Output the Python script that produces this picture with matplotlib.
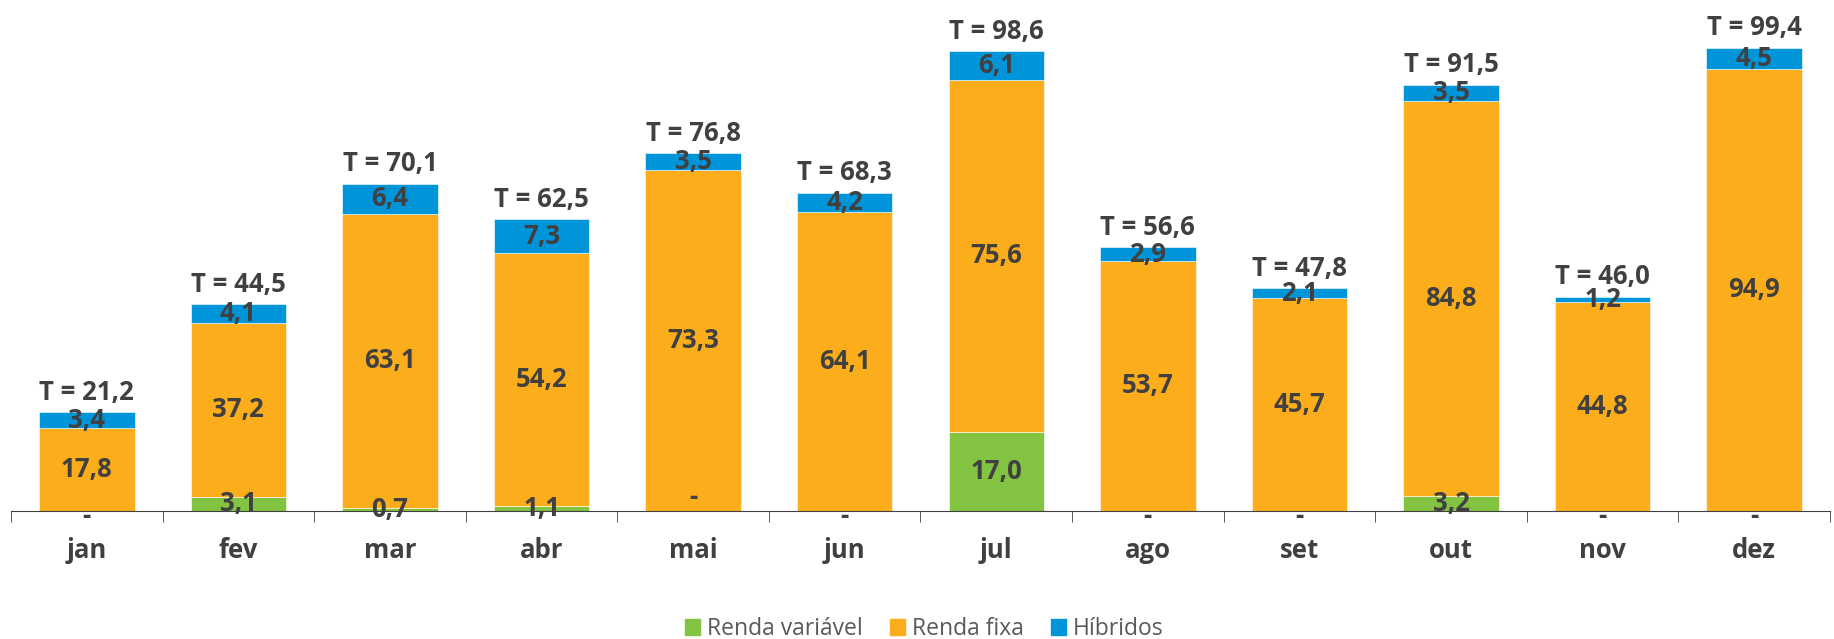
import numpy as np
import matplotlib.pyplot as plt
from matplotlib.patches import Patch

months = ['jan', 'fev', 'mar', 'abr', 'mai', 'jun', 'jul', 'ago', 'set', 'out', 'nov', 'dez']
renda_variavel = [0, 3.1, 0.7, 1.1, 0, 0, 17.0, 0, 0, 3.2, 0, 0]
renda_fixa = [17.8, 37.2, 63.1, 54.2, 73.3, 64.1, 75.6, 53.7, 45.7, 84.8, 44.8, 94.9]
hibridos = [3.4, 4.1, 6.4, 7.3, 3.5, 4.2, 6.1, 2.9, 2.1, 3.5, 1.2, 4.5]
totais = [21.2, 44.5, 70.1, 62.5, 76.8, 68.3, 98.6, 56.6, 47.8, 91.5, 46.0, 99.4]

green = '#82C341'
orange = '#FBAD1B'
blue = '#0095D9'
txt = '#404040'

plt.rcParams['font.family'] = ['Open Sans', 'DejaVu Sans']

def fmt(v):
    return '-' if v == 0 else f'{v:.1f}'.replace('.', ',')

fig = plt.figure(figsize=(18.34, 6.39), dpi=100)
ax = fig.add_axes([11 / 1834, 1 - 511 / 639, 1819 / 1834, 511 / 639])

x = np.arange(len(months))
w = 0.63
rv = np.array(renda_variavel)
rf = np.array(renda_fixa)
hb = np.array(hibridos)

ax.bar(x, rv, w, color=green, edgecolor='white', linewidth=0.4)
ax.bar(x, rf, w, bottom=rv, color=orange, edgecolor='white', linewidth=0.4)
ax.bar(x, hb, w, bottom=rv + rf, color=blue, edgecolor='white', linewidth=0.4)

fs = 18.5
for i in range(len(months)):
    # renda variável
    y = rv[i] / 2
    if rv[i] == 0:
        y = 3.0 if months[i] == 'mai' else -1.2
    ax.text(x[i], y, fmt(rv[i]), ha='center', va='center', fontsize=fs,
            fontweight='bold', color=txt)
    ax.text(x[i], rv[i] + rf[i] / 2, fmt(rf[i]), ha='center', va='center',
            fontsize=fs, fontweight='bold', color=txt)
    ax.text(x[i], rv[i] + rf[i] + hb[i] / 2, fmt(hb[i]), ha='center', va='center',
            fontsize=fs, fontweight='bold', color=txt)
    ax.annotate('T = ' + fmt(totais[i]), (x[i], rv[i] + rf[i] + hb[i]),
                xytext=(0, 14.5), textcoords='offset points', ha='center',
                va='center', fontsize=fs, fontweight='bold', color=txt)

ax.set_xlim(-0.5, 11.5)
ax.set_ylim(0, 109.7)
for s in ['top', 'right', 'left']:
    ax.spines[s].set_visible(False)
ax.spines['bottom'].set_color('#404040')
ax.set_yticks([])
ax.set_xticks(x)
ax.set_xticklabels(months, fontsize=fs, fontweight='bold', color=txt)
ax.tick_params(axis='x', length=0, pad=19)
ax.set_xticks(np.arange(-0.5, 12, 1), minor=True)
ax.tick_params(axis='x', which='minor', length=8, color='#404040', direction='out')

handles = [Patch(color=green, label='Renda variável'),
           Patch(color=orange, label='Renda fixa'),
           Patch(color=blue, label='Híbridos')]
fig.legend(handles=handles, loc='center', bbox_to_anchor=(0.504, 1 - 629 / 639),
           ncol=3, frameon=False, fontsize=16.5, labelcolor='#595959',
           handlelength=0.65, handleheight=0.65, handletextpad=0.3, columnspacing=1.2)

fig.savefig('out.png', dpi=100)
